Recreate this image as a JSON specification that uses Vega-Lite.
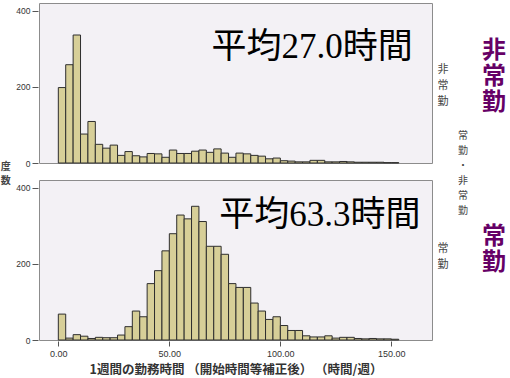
{
  "$schema": "https://vega.github.io/schema/vega-lite/v6.json",
  "padding": {"left": 0, "top": 2, "right": 0, "bottom": 0},
  "title": {"text": ["度", "数"], "orient": "left", "anchor": "middle", "angle": 0, "font": "Noto Sans CJK JP", "fontSize": 10, "fontWeight": "bold", "color": "#444", "lineHeight": 14, "offset": 0, "dy": -27},
  "datasets": {
    "hist": [
      {"g":"非常勤","x0":0,"x1":3.33,"n":198},{"g":"非常勤","x0":3.33,"x1":6.67,"n":258},{"g":"非常勤","x0":6.67,"x1":10,"n":336},{"g":"非常勤","x0":10,"x1":13.33,"n":76},{"g":"非常勤","x0":13.33,"x1":16.67,"n":109},
      {"g":"非常勤","x0":16.67,"x1":20,"n":49},{"g":"非常勤","x0":20,"x1":23.33,"n":39},{"g":"非常勤","x0":23.33,"x1":26.67,"n":47},{"g":"非常勤","x0":26.67,"x1":30,"n":20},{"g":"非常勤","x0":30,"x1":33.33,"n":30},
      {"g":"非常勤","x0":33.33,"x1":36.67,"n":19},{"g":"非常勤","x0":36.67,"x1":40,"n":16},{"g":"非常勤","x0":40,"x1":43.33,"n":25},{"g":"非常勤","x0":43.33,"x1":46.67,"n":24},{"g":"非常勤","x0":46.67,"x1":50,"n":15},
      {"g":"非常勤","x0":50,"x1":53.33,"n":34},{"g":"非常勤","x0":53.33,"x1":56.67,"n":25},{"g":"非常勤","x0":56.67,"x1":60,"n":25},{"g":"非常勤","x0":60,"x1":63.33,"n":31},{"g":"非常勤","x0":63.33,"x1":66.67,"n":34},
      {"g":"非常勤","x0":66.67,"x1":70,"n":28},{"g":"非常勤","x0":70,"x1":73.33,"n":37},{"g":"非常勤","x0":73.33,"x1":76.67,"n":26},{"g":"非常勤","x0":76.67,"x1":80,"n":15},{"g":"非常勤","x0":80,"x1":83.33,"n":26},
      {"g":"非常勤","x0":83.33,"x1":86.67,"n":24},{"g":"非常勤","x0":86.67,"x1":90,"n":20},{"g":"非常勤","x0":90,"x1":93.33,"n":18},{"g":"非常勤","x0":93.33,"x1":96.67,"n":11},{"g":"非常勤","x0":96.67,"x1":100,"n":13},
      {"g":"非常勤","x0":100,"x1":103.33,"n":6},{"g":"非常勤","x0":103.33,"x1":106.67,"n":5},{"g":"非常勤","x0":106.67,"x1":110,"n":3},{"g":"非常勤","x0":110,"x1":113.33,"n":3},{"g":"非常勤","x0":113.33,"x1":116.67,"n":7},
      {"g":"非常勤","x0":116.67,"x1":120,"n":7},{"g":"非常勤","x0":120,"x1":123.33,"n":3},{"g":"非常勤","x0":123.33,"x1":126.67,"n":3},{"g":"非常勤","x0":126.67,"x1":130,"n":4},{"g":"非常勤","x0":130,"x1":133.33,"n":3},
      {"g":"非常勤","x0":133.33,"x1":136.67,"n":2},{"g":"非常勤","x0":136.67,"x1":140,"n":2},{"g":"非常勤","x0":140,"x1":143.33,"n":2},{"g":"非常勤","x0":143.33,"x1":146.67,"n":2},{"g":"非常勤","x0":146.67,"x1":150,"n":1},
      {"g":"非常勤","x0":150,"x1":153.33,"n":1},
      {"g":"常勤","x0":0,"x1":3.33,"n":68},{"g":"常勤","x0":3.33,"x1":6.67,"n":5},{"g":"常勤","x0":6.67,"x1":10,"n":14},{"g":"常勤","x0":10,"x1":13.33,"n":10},{"g":"常勤","x0":13.33,"x1":16.67,"n":4},
      {"g":"常勤","x0":16.67,"x1":20,"n":7},{"g":"常勤","x0":20,"x1":23.33,"n":6},{"g":"常勤","x0":23.33,"x1":26.67,"n":6},{"g":"常勤","x0":26.67,"x1":30,"n":13},{"g":"常勤","x0":30,"x1":33.33,"n":35},
      {"g":"常勤","x0":33.33,"x1":36.67,"n":76},{"g":"常勤","x0":36.67,"x1":40,"n":61},{"g":"常勤","x0":40,"x1":43.33,"n":148},{"g":"常勤","x0":43.33,"x1":46.67,"n":182},{"g":"常勤","x0":46.67,"x1":50,"n":234},
      {"g":"常勤","x0":50,"x1":53.33,"n":279},{"g":"常勤","x0":53.33,"x1":56.67,"n":328},{"g":"常勤","x0":56.67,"x1":60,"n":318},{"g":"常勤","x0":60,"x1":63.33,"n":351},{"g":"常勤","x0":63.33,"x1":66.67,"n":311},
      {"g":"常勤","x0":66.67,"x1":70,"n":246},{"g":"常勤","x0":70,"x1":73.33,"n":246},{"g":"常勤","x0":73.33,"x1":76.67,"n":225},{"g":"常勤","x0":76.67,"x1":80,"n":148},{"g":"常勤","x0":80,"x1":83.33,"n":138},
      {"g":"常勤","x0":83.33,"x1":86.67,"n":138},{"g":"常勤","x0":86.67,"x1":90,"n":97},{"g":"常勤","x0":90,"x1":93.33,"n":76},{"g":"常勤","x0":93.33,"x1":96.67,"n":54},{"g":"常勤","x0":96.67,"x1":100,"n":61},
      {"g":"常勤","x0":100,"x1":103.33,"n":38},{"g":"常勤","x0":103.33,"x1":106.67,"n":25},{"g":"常勤","x0":106.67,"x1":110,"n":25},{"g":"常勤","x0":110,"x1":113.33,"n":11},{"g":"常勤","x0":113.33,"x1":116.67,"n":8},
      {"g":"常勤","x0":116.67,"x1":120,"n":8},{"g":"常勤","x0":120,"x1":123.33,"n":11},{"g":"常勤","x0":123.33,"x1":126.67,"n":5},{"g":"常勤","x0":126.67,"x1":130,"n":7},{"g":"常勤","x0":130,"x1":133.33,"n":7},
      {"g":"常勤","x0":133.33,"x1":136.67,"n":4},{"g":"常勤","x0":136.67,"x1":140,"n":3},{"g":"常勤","x0":140,"x1":143.33,"n":4},{"g":"常勤","x0":143.33,"x1":146.67,"n":3},{"g":"常勤","x0":146.67,"x1":150,"n":3},
      {"g":"常勤","x0":150,"x1":153.33,"n":2},
      {"g":"非常勤","note":"平均27.0時間"},
      {"g":"常勤","note":"平均63.3時間"}
    ],
    "side": [
      {"g":"非常勤","label":"非\n常\n勤"},
      {"g":"常勤","label":"常\n勤"}
    ],
    "sidetitle": [
      {"t":"常\n勤\n・\n非\n常\n勤"}
    ]
  },
  "hconcat": [
    {
      "data": {"name": "hist"},
      "facet": {
        "row": {
          "field": "g", "type": "nominal", "sort": ["非常勤", "常勤"],
          "title": null,
          "header": {"labels": false, "title": null}
        }
      },
      "spacing": 15,
      "spec": {
        "width": 393,
        "height": 160,
        "layer": [
          {
            "transform": [{"filter": "isValid(datum.n)"}],
            "mark": {"type": "rect", "fill": "#d7cf98", "stroke": "#2e2e2e", "strokeWidth": 1},
            "encoding": {
              "x": {
                "field": "x0", "type": "quantitative",
                "scale": {"domain": [-8.7, 168.3], "nice": false, "zero": false},
                "axis": {
                  "values": [0, 50, 100, 150], "format": ".2f", "domain": false,
                  "labelFont": "Liberation Sans", "labelFontSize": 9, "labelColor": "#333", "labelPadding": 3,
                  "tickColor": "#555", "tickSize": 5,
                  "title": "1週間の勤務時間 （開始時間等補正後） （時間/週）",
                  "titleFont": "Noto Sans CJK JP", "titleFontSize": 12.5, "titleFontWeight": "bold", "titleColor": "#333", "titlePadding": 5
                }
              },
              "x2": {"field": "x1"},
              "y": {
                "field": "n", "type": "quantitative",
                "scale": {"domain": [0, 420], "nice": false},
                "axis": {
                  "values": [0, 100, 200, 300, 400], "domain": false, "grid": false,
                  "labelFont": "Liberation Sans", "labelFontSize": 8.5, "labelColor": "#333", "labelPadding": 2,
                  "tickColor": "#555", "tickSize": 6, "title": null
                }
              },
              "y2": {"datum": 0}
            }
          },
          {
            "transform": [{"filter": "isValid(datum.note) && datum.g == '非常勤'"}],
            "mark": {"type": "text", "font": "Liberation Serif, Noto Sans CJK JP", "fontSize": 35, "align": "left", "baseline": "middle", "fill": "#000"},
            "encoding": {"x": {"datum": 69}, "y": {"datum": 304}, "text": {"field": "note"}}
          },
          {
            "transform": [{"filter": "isValid(datum.note) && datum.g == '常勤'"}],
            "mark": {"type": "text", "font": "Liberation Serif, Noto Sans CJK JP", "fontSize": 35, "align": "left", "baseline": "middle", "fill": "#000"},
            "encoding": {"x": {"datum": 72.5}, "y": {"datum": 328}, "text": {"field": "note"}}
          }
        ]
      }
    },
    {
      "width": 77,
      "height": 335,
      "view": {"fill": null, "stroke": null},
      "layer": [
        {
          "data": {"name": "side"},
          "transform": [{"filter": "datum.g == '非常勤'"}],
          "mark": {"type": "text", "font": "Noto Sans CJK JP", "fontSize": 11, "fill": "#444", "lineBreak": "\n", "lineHeight": 16, "baseline": "middle", "align": "center", "dy": -17},
          "encoding": {
            "x": {"datum": 10, "type": "quantitative", "scale": {"domain": [0, 77], "nice": false, "zero": true}, "axis": null},
            "y": {"field": "g", "type": "nominal", "sort": ["非常勤", "常勤"], "axis": null, "scale": {"domain": ["非常勤", "常勤"], "paddingInner": 0.0857, "paddingOuter": 0}},
            "text": {"field": "label"}
          }
        },
        {
          "data": {"name": "side"},
          "transform": [{"filter": "datum.g == '常勤'"}],
          "mark": {"type": "text", "font": "Noto Sans CJK JP", "fontSize": 11, "fill": "#444", "lineBreak": "\n", "lineHeight": 16, "baseline": "middle", "align": "center", "dy": -5},
          "encoding": {
            "x": {"datum": 10, "type": "quantitative"},
            "y": {"field": "g", "type": "nominal", "sort": ["非常勤", "常勤"]},
            "text": {"field": "label"}
          }
        },
        {
          "data": {"name": "sidetitle"},
          "mark": {"type": "text", "font": "Noto Sans CJK JP", "fontSize": 10, "fill": "#444", "lineBreak": "\n", "lineHeight": 15, "baseline": "middle", "align": "center", "dy": -35},
          "encoding": {
            "x": {"datum": 30, "type": "quantitative"},
            "text": {"field": "t"}
          }
        },
        {
          "data": {"name": "side"},
          "transform": [{"filter": "datum.g == '非常勤'"}],
          "mark": {"type": "text", "font": "Noto Sans CJK JP", "fontSize": 24, "fontWeight": "bold", "fill": "#660066", "lineBreak": "\n", "lineHeight": 26, "baseline": "middle", "align": "center", "dy": -36},
          "encoding": {
            "x": {"datum": 61, "type": "quantitative"},
            "y": {"field": "g", "type": "nominal", "sort": ["非常勤", "常勤"]},
            "text": {"field": "label"}
          }
        },
        {
          "data": {"name": "side"},
          "transform": [{"filter": "datum.g == '常勤'"}],
          "mark": {"type": "text", "font": "Noto Sans CJK JP", "fontSize": 24, "fontWeight": "bold", "fill": "#660066", "lineBreak": "\n", "lineHeight": 26, "baseline": "middle", "align": "center", "dy": -17},
          "encoding": {
            "x": {"datum": 61, "type": "quantitative"},
            "y": {"field": "g", "type": "nominal", "sort": ["非常勤", "常勤"]},
            "text": {"field": "label"}
          }
        }
      ]
    }
  ],
  "spacing": 0,
  "config": {
    "view": {"fill": "#f3f1f5", "stroke": "#8c8c8c", "strokeWidth": 1},
    "axis": {"grid": false},
    "font": "Noto Sans CJK JP"
  }
}
